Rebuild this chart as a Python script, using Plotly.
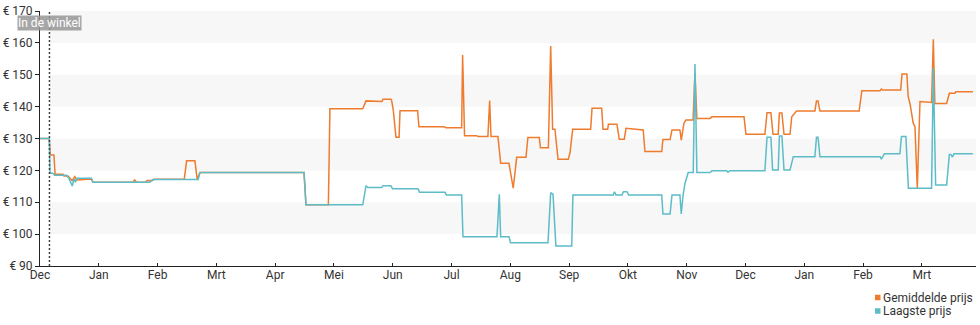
import plotly.graph_objects as go

# ---------------- data ----------------
MONTH_LABELS = ["Dec", "Jan", "Feb", "Mrt", "Apr", "Mei", "Jun", "Jul",
                "Aug", "Sep", "Okt", "Nov", "Dec", "Jan", "Feb", "Mrt"]
PRICE_TICKS = [90, 100, 110, 120, 130, 140, 150, 160, 170]

SERIES_NAMES = ["Gemiddelde prijs", "Laagste prijs"]

# days since the first "Dec" tick
avg_days = [0, 4.8, 5.3, 7.2, 7.8, 11.9, 12.4, 14.5, 15.5, 16.6, 18.0, 18.9,
            26.6, 27.4, 48.1, 49.0, 50.0, 54.9, 55.4, 58.2, 59.0, 74.7, 75.9,
            80.2, 81.4, 82.8, 136.7, 137.7, 149.3, 150.1, 167.1, 168.8, 177.0,
            177.6, 181.7, 182.1, 182.9, 184.3, 185.9, 186.4, 195.5, 196.2,
            209.2, 210.2, 218.3, 218.8, 219.8, 226.1, 226.8, 231.9, 232.8,
            233.5, 237.1, 238.5, 242.8, 245.0, 246.8, 251.6, 252.6, 258.5,
            259.1, 263.2, 264.4, 265.4, 266.6, 268.2, 273.5, 274.4, 275.8,
            285.1, 285.8, 290.8, 291.5, 293.9, 294.3, 298.7, 299.9, 302.5,
            303.4, 312.3, 313.2, 321.9, 322.5, 326.2, 327.2, 331.3, 332.0,
            333.4, 334.4, 338.1, 339.1, 340.1, 346.9, 347.9, 364.5, 365.5,
            375.3, 376.4, 378.4, 379.5, 382.2, 382.8, 384.1, 385.2, 388.3,
            389.2, 391.7, 401.2, 402.0, 402.8, 403.8, 424.1, 425.5, 434.9,
            435.6, 436.4, 445.6, 446.3, 448.8, 449.5, 450.4, 452.1, 453.0,
            454.2, 455.6, 461.6, 462.5, 463.3, 469.4, 470.8, 473.7, 474.2,
            483.0]
avg_price = [130, 130, 124.8, 124.8, 118.8, 118.8, 118.2, 118.2, 117.5, 116.8,
             118.0, 117.0, 117.3, 116.3, 116.3, 117.0, 116.3, 116.3, 116.8,
             116.8, 117.2, 117.2, 123.0, 123.0, 117.2, 119.3, 119.3, 109.2,
             109.2, 139.3, 139.3, 141.8, 141.6, 142.3, 142.3, 141.8, 138.9,
             130.4, 130.4, 138.7, 138.7, 133.7, 133.7, 133.4, 133.4, 156.2,
             130.9, 130.9, 130.6, 130.6, 141.9, 130.6, 130.6, 122.2, 122.2,
             114.4, 124.1, 124.1, 130.3, 130.3, 127.1, 127.1, 159.0, 132.9,
             132.9, 123.5, 123.5, 125.5, 132.9, 132.9, 139.5, 139.5, 132.9,
             132.9, 134.5, 134.5, 129.8, 129.8, 133.2, 132.7, 125.9, 125.9,
             129.7, 129.7, 132.7, 132.7, 129.5, 134.8, 135.8, 135.8, 150.5,
             136.3, 136.3, 136.8, 136.8, 131.3, 131.3, 138.1, 138.1, 131.3,
             131.3, 138.0, 138.0, 131.3, 131.3, 136.8, 138.6, 138.6, 141.8,
             141.8, 138.6, 138.6, 145.0, 145.0, 145.5, 145.2, 145.2, 150.2,
             150.2, 143.1, 141.0, 134.8, 133.7, 114.4, 141.6, 141.3, 161.1,
             141.0, 141.0, 144.2, 144.2, 144.7, 144.7]

low_days = [0, 4.8, 5.2, 6.7, 7.6, 13.6, 15.0, 16.7, 17.6, 18.3, 19.2, 26.6,
            27.4, 56.8, 58.5, 81.9, 82.8, 136.7, 137.7, 167.1, 168.8, 169.8,
            176.9, 177.6, 181.7, 182.5, 195.7, 196.5, 209.7, 210.4, 218.3,
            219.0, 236.6, 237.8, 238.5, 242.8, 243.6, 263.0, 264.4, 265.6,
            267.1, 275.3, 275.9, 296.8, 297.4, 298.2, 301.3, 302.1, 303.9,
            304.7, 321.9, 322.5, 326.2, 327.2, 331.3, 332.0, 332.9, 333.9,
            335.6, 338.2, 339.1, 340.1, 346.9, 347.9, 355.5, 356.2, 357.2,
            375.3, 376.4, 378.4, 379.3, 382.2, 382.8, 384.1, 385.2, 388.3,
            390.0, 401.2, 402.0, 402.8, 403.8, 434.9, 435.6, 436.4, 437.2,
            445.2, 446.0, 448.3, 449.6, 461.6, 462.5, 463.7, 469.4, 470.8,
            471.6, 472.4, 473.2, 483.0]
low_price = [130, 130, 119.1, 119.1, 118.5, 118.5, 117.5, 115.1, 117.3, 116.3,
             117.5, 117.5, 116.3, 116.3, 117.1, 117.1, 119.3, 119.3, 109.2,
             109.2, 115.2, 114.6, 114.6, 115.2, 115.2, 114.2, 114.2, 113.1,
             113.1, 112.3, 112.3, 99.2, 99.2, 112.5, 99.2, 99.2, 97.3, 97.3,
             113.0, 112.5, 96.3, 96.3, 112.3, 112.3, 113.3, 112.3, 112.3,
             113.3, 113.3, 112.3, 112.3, 106.3, 106.3, 112.3, 112.3, 106.3,
             112.0, 115.9, 119.3, 119.3, 153.4, 119.3, 119.3, 119.9, 119.9,
             119.4, 119.9, 119.9, 130.4, 130.4, 120.1, 120.1, 130.8, 130.8,
             120.1, 120.1, 124.3, 124.3, 130.4, 130.4, 124.3, 124.3, 123.5,
             124.3, 125.2, 125.2, 130.6, 130.6, 114.4, 114.4, 152.0, 115.4,
             115.4, 125.0, 125.0, 124.2, 125.2, 125.2]

IN_STORE_DAY = 4.9
IN_STORE_LABEL = "In de winkel"

# ---------------- styling ----------------
ORANGE = "#EE7B2E"
TEAL = "#5CBCC8"
FONT = "Roboto"
TEXT = "#333333"
AXIS = "#222222"

W, H = 980, 325
ML, MR, MT, MB = 40, 4, 11, 59
PW, PH = W - ML - MR, H - MT - MB
DAYS_PER_TICK = 30.4375
X_END = PW / 1.9315


def px_x(p):
    return (p - ML) / PW


def px_y(p):
    return (MT + PH - p) / PH


fig = go.Figure()
fig.add_trace(go.Scatter(x=avg_days, y=avg_price, mode="lines", name=SERIES_NAMES[0],
                         line=dict(color=ORANGE, width=1.5)))
fig.add_trace(go.Scatter(x=low_days, y=low_price, mode="lines", name=SERIES_NAMES[1],
                         line=dict(color=TEAL, width=1.5)))

shapes = []
# alternating light bands
for i in range(len(PRICE_TICKS) - 1):
    if (len(PRICE_TICKS) - 2 - i) % 2 == 0:
        shapes.append(dict(type="rect", xref="x", yref="y", x0=IN_STORE_DAY, x1=X_END,
                           y0=PRICE_TICKS[i], y1=PRICE_TICKS[i + 1],
                           fillcolor="#F7F7F7", line=dict(width=0), layer="below"))
# "in de winkel" marker line
shapes.append(dict(type="line", xref="x", yref="paper", x0=IN_STORE_DAY, x1=IN_STORE_DAY,
                   y0=0, y1=1, line=dict(color="#444444", width=1.5, dash="2px,2px")))
# legend squares
for k, col in enumerate([ORANGE, TEAL]):
    cy = 297.5 + k * 13.5
    shapes.append(dict(type="rect", xref="paper", yref="paper",
                       x0=px_x(875), x1=px_x(880.5), y0=px_y(cy - 2.75), y1=px_y(cy + 2.75),
                       fillcolor=col, line=dict(width=0)))

annotations = [
    dict(text=IN_STORE_LABEL, x=IN_STORE_DAY, xref="x", y=1, yref="paper",
         xanchor="center", yanchor="top", yshift=-4, showarrow=False,
         bgcolor="rgba(150,150,150,0.85)", borderpad=0,
         font=dict(family=FONT, size=12, color="white")),
]
for k, name in enumerate(SERIES_NAMES):
    annotations.append(dict(text=name, x=px_x(881), y=px_y(297.5 + k * 13.5),
                            xref="paper", yref="paper", xanchor="left", yanchor="middle",
                            showarrow=False,
                            font=dict(family=FONT, size=12, color=TEXT)))

fig.update_layout(
    width=W, height=H,
    margin=dict(l=ML, r=MR, t=MT, b=MB, pad=0),
    paper_bgcolor="white", plot_bgcolor="white",
    showlegend=False,
    font=dict(family=FONT, size=12, color=TEXT),
    shapes=shapes, annotations=annotations,
    xaxis=dict(range=[0, X_END],
               tickvals=[i * DAYS_PER_TICK for i in range(len(MONTH_LABELS))],
               ticktext=MONTH_LABELS,
               showgrid=False, zeroline=False, showline=True, linecolor=AXIS, linewidth=1,
               ticks="inside", ticklen=3, tickcolor=AXIS, ticklabelstandoff=-2,
               tickfont=dict(family=FONT, size=12, color=TEXT)),
    yaxis=dict(range=[90, 170], tickvals=PRICE_TICKS,
               ticktext=["€ %d" % v for v in PRICE_TICKS],
               showgrid=False, zeroline=False, showline=True, linecolor=AXIS, linewidth=1,
               ticks="outside", ticklen=4, tickcolor=AXIS,
               tickfont=dict(family=FONT, size=12, color=TEXT)),
)

fig.write_html("out.html")
